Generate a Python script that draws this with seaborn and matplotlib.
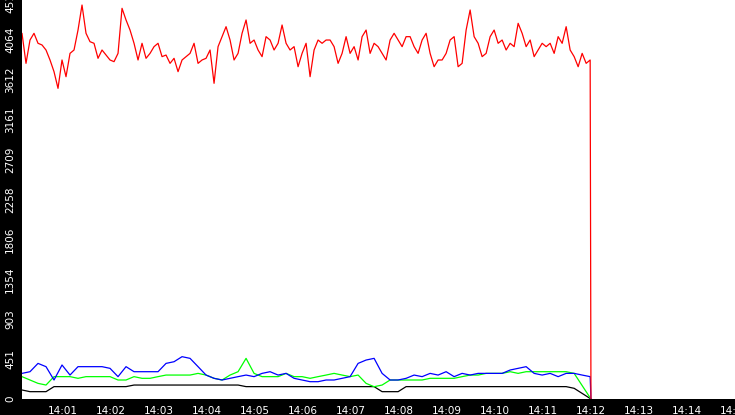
import numpy as np
import pandas as pd
import matplotlib
matplotlib.use("Agg")
import matplotlib.pyplot as plt
import matplotlib.dates as mdates
import seaborn as sns

red_vals = [4139,3799,4063,4139,4026,4007,3950,3837,3705,3516,
            3837,3648,3912,3950,4176,4459,4139,4044,4026,3856,
            3950,3893,3837,3818,3912,4422,4290,4176,4026,3837,
            4026,3856,3912,3988,4026,3875,3893,3799,3856,3705,
            3837,3875,3912,4026,3799,3837,3856,3950,3573,3988,
            4101,4214,4063,3837,3912,4139,4290,4026,4063,3950,
            3875,4101,4063,3950,4026,4233,4026,3950,3988,3761,
            3912,4026,3648,3950,4063,
            4026,4063,4063,3988,3799,3912,4101,3912,3988,3837,
            4101,4176,3912,4026,3988,3912,3837,4063,4139,4063,
            3988,4101,4101,3988,3912,4063,4139,3912,3761,3837,
            3837,3912,4063,4101,3761,3799,4176,4403,4101,4026,
            3875,3912,4101,4176,4026,4063,3950,4026,3988,4252,
            4139,3988,4063,3875,3950,4026,3988,4026,3912,4101,
            4026,4214,3950,3875,3761,3912,3799,3837, 0]

blue_vals = [290,309,403,366,215,385,271,366,366,366,366,347,253,366,309,309,309,309,403,422,
             479,460,366,271,234,215,234,253,271,253,290,309,271,290,234,215,196,196,
             215,215,234,253,403,441,460,290,215,215,234,271,253,290,271,309,253,290,271,290,
             290,290,290,328,347,366,290,271,290,253,290,290,271,253, 0]
green_vals = [253,215,177,158,253,253,253,234,253,253,253,253,215,215,253,234,234,253,271,271,
              271,271,290,271,234,215,271,309,460,290,253,253,253,290,253,253,234,253,
              271,290,271,253,271,177,139,158,215,215,215,215,215,234,234,234,234,253,271,271,
              290,290,290,309,290,309,309,309,309,309,309,290, 0]
black_vals = [102,83,83,83,140,140,140,140,140,140,140,140,140,140,158,158,158,158,158,158,
              158,158,158,158,158,158,158,158,140,140,140,140,140,140,140,140,140,140,
              140,140,140,140,140,140,140,83,83,83,140,140,140,140,140,140,140,140,140,140,
              140,140,140,140,140,140,140,140,140,140,140,121, 0]

y_ticks = [0, 451.6, 903.2, 1354.8, 1806.4, 2258, 2709.6, 3161.2, 3612.8, 4064.4, 4516]
y_labels = ["0", "451", "903", "1354", "1806", "2258", "2709", "3161", "3612", "4064", "4516"]

start = pd.Timestamp("2024-01-01 14:00:09")
end = pd.Timestamp("2024-01-01 14:12:00")

def times(n, step):
    t = list(start + pd.to_timedelta(np.arange(n - 1) * step, unit="s"))
    return t + [end]

frames = []
for name, vals, step in [("red", red_vals, 5), ("blue", blue_vals, 10),
                         ("lime", green_vals, 10), ("black", black_vals, 10)]:
    frames.append(pd.DataFrame({"t": times(len(vals), step), "v": vals, "s": name}))
df = pd.concat(frames, ignore_index=True)

sns.set_style("white")
fig = plt.figure(figsize=(7.35, 4.15), dpi=100, facecolor="black")
ax = fig.add_axes([22/735, 16/415, 713/735, 399/415])
ax.set_facecolor("white")
sns.lineplot(data=df, x="t", y="v", hue="s",
             palette={"red": "#ff0000", "blue": "#0000ff", "lime": "#00ff00", "black": "#000000"},
             hue_order=["black", "lime", "blue", "red"],
             linewidth=0.9, legend=False, ax=ax, estimator=None, sort=False)

ax.set_xlim(start, pd.Timestamp("2024-01-01 14:15:00"))
ax.set_ylim(0, 4516)
ax.xaxis.set_major_locator(mdates.MinuteLocator())
ax.xaxis.set_major_formatter(mdates.DateFormatter("%H:%M"))
ax.set_yticks(y_ticks)
ax.set_yticklabels(y_labels, rotation=90, va="center")
ax.tick_params(colors="white", labelsize=7.5, length=4, direction="out", width=1)
ax.tick_params(axis="x", pad=1)
ax.tick_params(axis="y", pad=1)
for s in ax.spines.values():
    s.set_visible(False)
ax.set_xlabel("")
ax.set_ylabel("")
fig.savefig("out.png", dpi=100, facecolor="black")
